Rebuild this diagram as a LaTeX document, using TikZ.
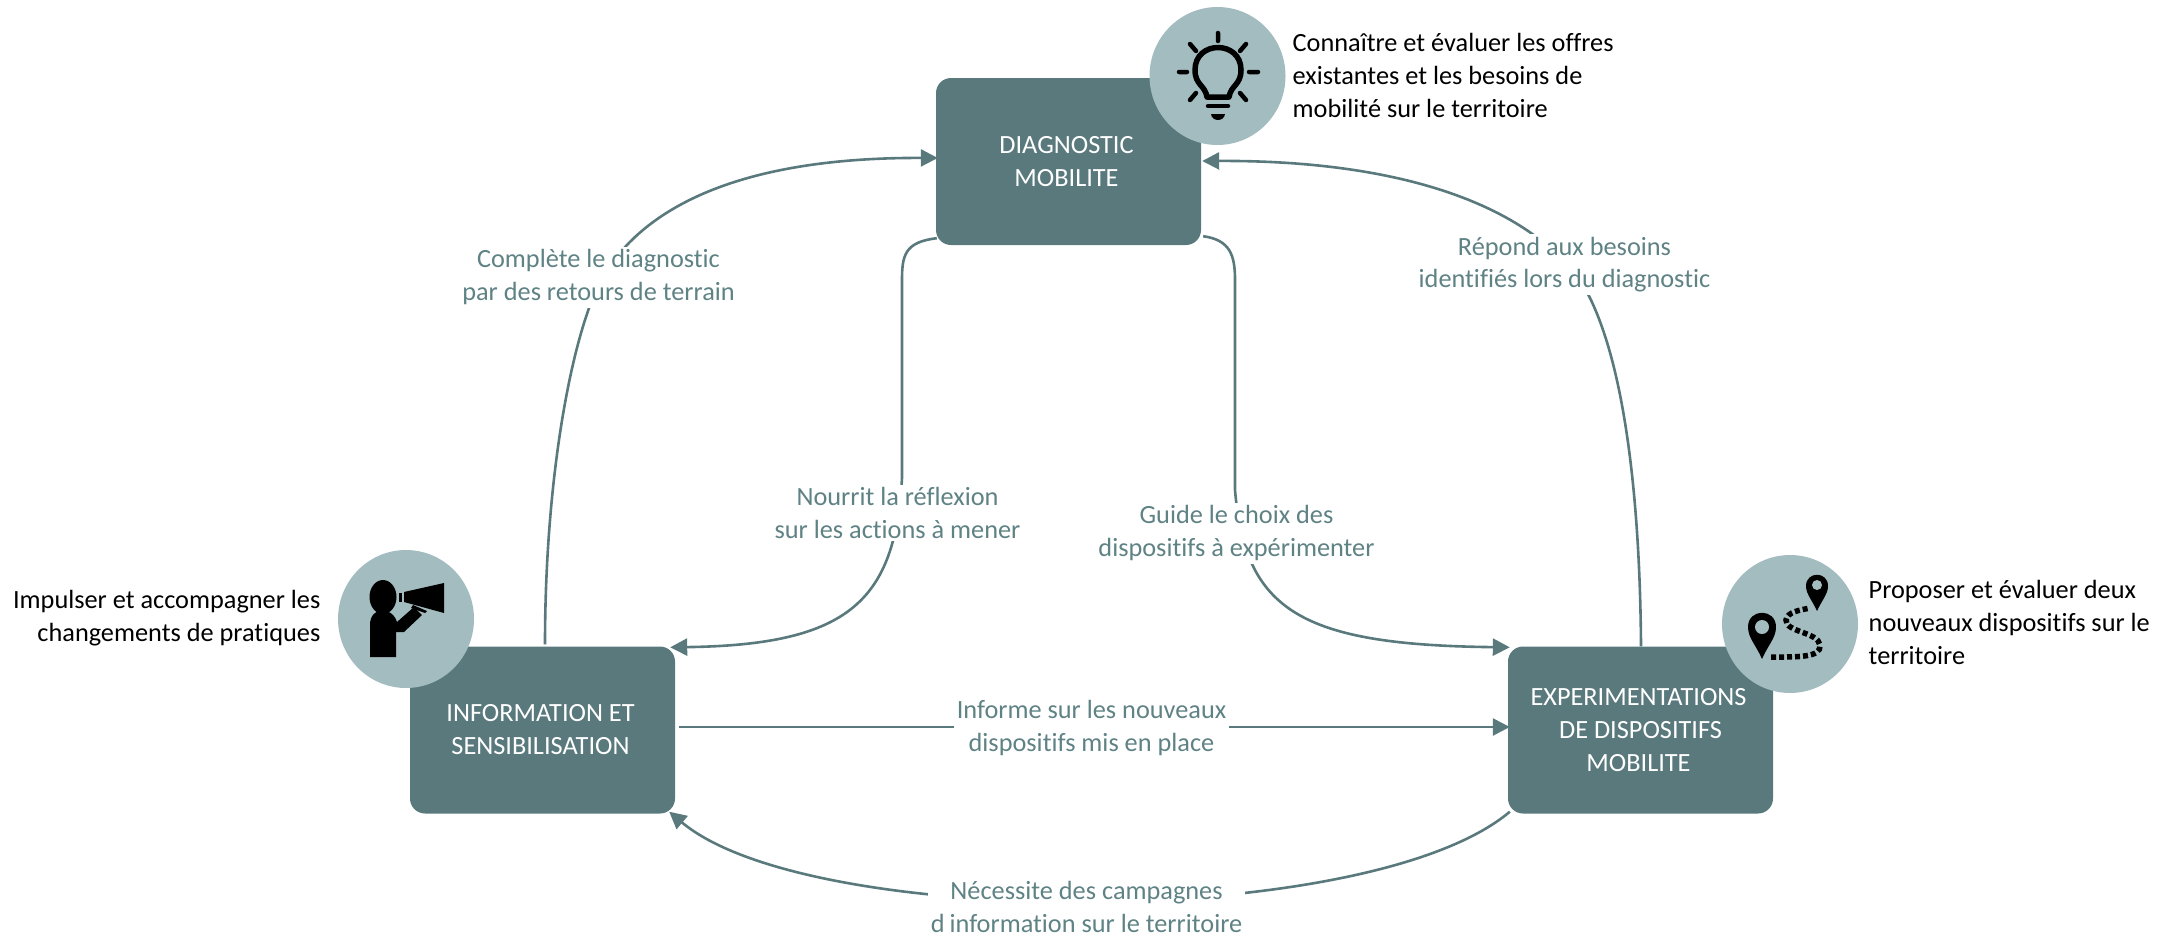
\documentclass[tikz,border=0pt]{standalone}
\usepackage{fontspec}
\setmainfont[Ligatures=NoCommon]{Carlito}
\usetikzlibrary{arrows.meta,calc,shapes.geometric}
\definecolor{boxc}{HTML}{59797D}
\definecolor{circc}{HTML}{A3BCC0}
\definecolor{labc}{HTML}{5F8285}
\newcommand{\bxl}{\hspace*{4pt}}
\tikzset{
  box/.style={fill=boxc,rounded corners=15pt,minimum width=265pt,minimum height=167pt,inner sep=0pt,align=center,text=white,font=\fontsize{26.3}{33}\selectfont},
  badge/.style={fill=circc,ellipse,minimum width=136pt,minimum height=138pt,inner sep=0pt},
  conn/.style={draw=boxc,line width=2.6pt},
  tip/.style={-{Triangle[length=17pt,width=17pt]}},
  lab/.style={fill=white,text=labc,align=center,inner sep=3pt,font=\fontsize{26.3}{32.5}\selectfont},
  desc/.style={text=black,inner sep=0pt,font=\fontsize{26.3}{33}\selectfont},
  ico/.style={draw=black,line width=5.5pt,line cap=round,fill=none}
}
\begin{document}
\begin{tikzpicture}[x=1pt,y=-1pt]
\useasboundingbox (0,0) rectangle (2172,938);
\node[box] (diag) at (1068.5,161.5) {DIAGNOSTIC\bxl\\MOBILITE\bxl};
\node[box] (info) at (542.5,730) {INFORMATION ET\bxl\\SENSIBILISATION\bxl};
\node[box] (exp) at (1640.5,730) {EXPERIMENTATIONS\bxl\\DE DISPOSITIFS\bxl\\MOBILITE\bxl};
% connectors
\draw[conn,tip] ([xshift=2.5pt,yshift=2pt]info.north) .. controls (545,500) and (565,370) .. (592,300) .. controls (618,232) and (700,157) .. ([xshift=2pt,yshift=3.5pt]diag.west);
\draw[conn,tip] ([xshift=0.5pt]exp.north) .. controls (1640,500) and (1625,370) .. (1590,298) .. controls (1550,220) and (1430,160) .. ([yshift=0.5pt,xshift=1pt]diag.east);
\draw[conn,tip] ([xshift=1pt,yshift=7pt]diag.south west) .. controls (905,242) and (902,255) .. (902,280) -- (902,478) .. controls (895,600) and (850,645) .. ([xshift=-5pt,yshift=-1pt]info.north east);
\draw[conn,tip] ([xshift=2pt,yshift=9pt]diag.south east) .. controls (1230,240) and (1235,255) .. (1235,280) -- (1235,490) .. controls (1245,610) and (1300,645) .. ([xshift=2pt,yshift=-1pt]exp.north west);
\draw[conn,tip] ([xshift=4pt,yshift=3pt]info.east) -- ([xshift=2pt,yshift=3pt]exp.west);
\draw[conn,tip] ([xshift=2pt,yshift=2pt]exp.south west) .. controls (1370,930) and (810,930) .. ([xshift=-6pt,yshift=2pt]info.south east);
% badges
\node[badge] (b1) at (1217.5,76) {};
\node[badge] (b2) at (406,619) {};
\node[badge] (b3) at (1790,624) {};
% bulb
\draw[ico,line join=round] (1207,97) .. controls (1205,85) and (1195,85) .. (1195,70) .. controls (1195,40) and (1241,40) .. (1241,70) .. controls (1241,85) and (1231,85) .. (1229,97) -- cycle;
\draw[ico,line width=4.5pt] (1218,33)--(1218,41) (1179,72)--(1187,72) (1249,72)--(1258,72) (1190,44)--(1196,51) (1246,44)--(1240,51) (1190,100)--(1196,93) (1246,100)--(1240,93);
\draw[ico,line width=4.5pt] (1208,106)--(1228,106);
\fill[black] (1211,114) -- (1225,114) .. controls (1224,122) and (1212,122) .. (1211,114) -- cycle;
% megaphone man
\fill[black] (383,597) ellipse [x radius=13.5,y radius=17];
\fill[black] (370,657) -- (370,625) .. controls (370,606) and (392,606) .. (397,622) -- (414,607) -- (422,615) -- (404,632) -- (396,632) -- (396,657) -- cycle;
\fill[black] (404,592) -- (444,583) -- (444,613) -- (404,602) -- cycle;
\fill[black] (399,593) rectangle (402,602);
\fill[black] (413,605) -- (427,611) -- (425,613) -- (411,608) -- cycle;
% pins
\fill[black] (1762,659) .. controls (1756,645) and (1748,638) .. (1748,627) .. controls (1748,608) and (1776,608) .. (1776,627) .. controls (1776,638) and (1768,645) .. (1762,659) -- cycle;
\fill[black] (1817,611) .. controls (1812,600) and (1806,594) .. (1806,586) .. controls (1806,571) and (1828,571) .. (1828,586) .. controls (1828,594) and (1822,600) .. (1817,611) -- cycle;
\draw[black,line width=5.5pt,dash pattern=on 5pt off 3pt] (1771,657) .. controls (1795,657) and (1822,658) .. (1820,645) .. controls (1818,632) and (1785,632) .. (1786,620) .. controls (1787,612) and (1800,610) .. (1810,608);
\fill[circc] (1762,627) circle [radius=7];
\fill[circc] (1817,585) circle [radius=5];
% labels
\node[lab] (l1) at (598.5,277) {Complète le diagnostic\\par des retours de terrain};
\node[lab] (l2) at (1564.5,264.5) {Répond aux besoins\\identifiés lors du diagnostic};
\node[lab] (l3) at (897.5,513) {Nourrit la réflexion\\sur les actions à mener};
\node[lab] (l4) at (1236.5,533) {Guide le choix des\\dispositifs à expérimenter};
\node[lab] (l5) at (1091.5,728) {Informe sur les nouveaux\\dispositifs mis en place};
\node[lab] (l6) at (1086.5,907) {Nécessite des campagnes\\d\hspace{5pt}information sur le territoire};
% descriptions
\node[desc,align=left,anchor=west] (d1) at (1292.5,75) {Connaître et évaluer les offres\\existantes et les besoins de\\mobilité sur le territoire};
\node[desc,align=right,anchor=east] (d2) at (320.5,618) {Impulser et accompagner les\\changements de pratiques};
\node[desc,align=left,anchor=west] (d3) at (1868.5,622) {Proposer et évaluer deux\\nouveaux dispositifs sur le\\territoire};
\end{tikzpicture}
\end{document}
